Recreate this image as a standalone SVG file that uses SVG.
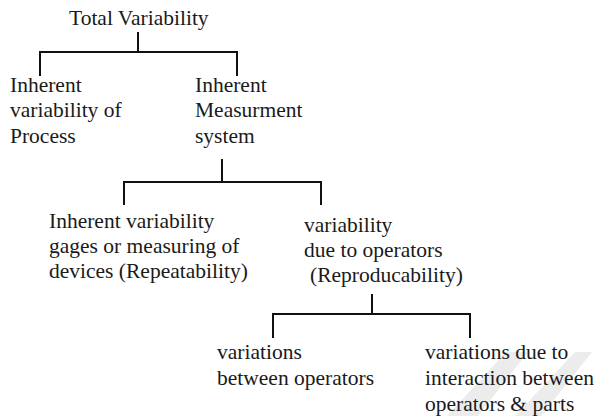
<svg xmlns="http://www.w3.org/2000/svg" width="595" height="416" viewBox="0 0 595 416">
<style>
text{font-family:"Liberation Serif","Times New Roman",serif;font-size:21.5px;fill:#1a1a1a}
.c{fill:none;stroke:#111;stroke-width:2;stroke-linecap:square}
</style>
<rect width="595" height="416" fill="#fff"/>
<g id="watermark" fill="#ececec">
<polygon points="447,416 478,416 528,352 506,352"/>
<polygon points="515,416 541,416 592,352 575,352"/>
</g>
<g id="connectors">
<path class="c" d="M138,33V52M40,52H237M40,52V75M237,52V75"/>
<path class="c" d="M222,160V182M124,182H321M124,182V204M321,182V204"/>
<path class="c" d="M372,295V314M273,314H470M273,314V337M470,314V337"/>
</g>
<g id="total"><text x="69" y="25">Total Variability</text></g>
<g id="process"><text x="10" y="92">Inherent</text><text x="10" y="117">variability of</text><text x="10" y="143">Process</text></g>
<g id="measurement"><text x="195" y="92">Inherent</text><text x="195" y="117">Measurment</text><text x="195" y="143">system</text></g>
<g id="repeatability"><text x="49" y="228">Inherent variability</text><text x="49" y="253">gages or measuring of</text><text x="49" y="278">devices (Repeatability)</text></g>
<g id="reproducability"><text x="304" y="232">variability</text><text x="304" y="257">due to operators</text><text x="310" y="282">(Reproducability)</text></g>
<g id="between"><text x="217" y="359">variations</text><text x="217" y="385">between operators</text></g>
<g id="interaction"><text x="425" y="359">variations due to</text><text x="425" y="385">interaction between</text><text x="425" y="411">operators &amp; parts</text></g>
</svg>
